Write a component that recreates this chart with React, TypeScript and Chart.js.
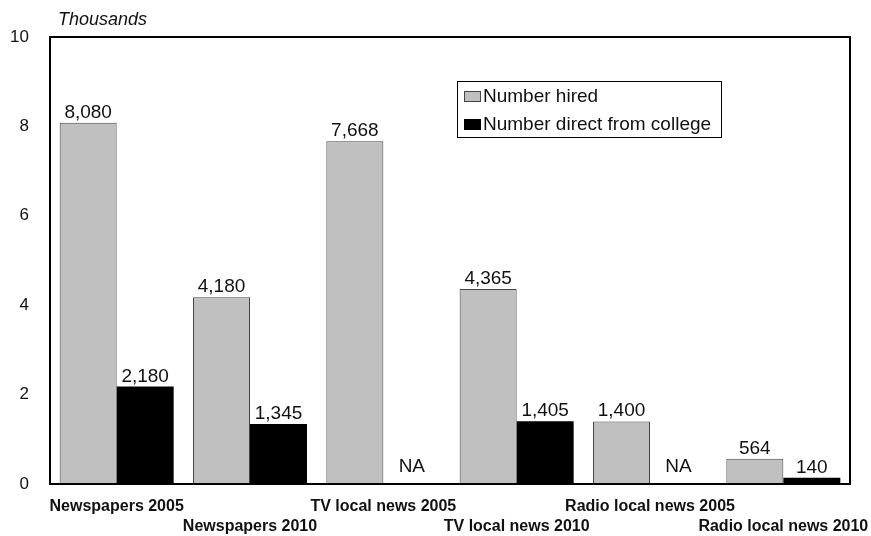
import React, { useEffect, useRef } from "react";
import { Chart, registerables } from "chart.js";

Chart.register(...registerables);

const categories = [
  "Newspapers 2005",
  "Newspapers 2010",
  "TV local news 2005",
  "TV local news 2010",
  "Radio local news 2005",
  "Radio local news 2010",
];
const seriesNames = ["Number hired", "Number direct from college"];
const hired = [8.08, 4.18, 7.668, 4.365, 1.4, 0.564];
const directFromCollege: (number | null)[] = [2.18, 1.345, null, 1.405, null, 0.14];
const yTicks = [0, 2, 4, 6, 8, 10];
const unitLabel = "Thousands";
const missingLabel = "NA";

const FONT = "'Liberation Sans', Arial, sans-serif";
const GRAY = "#c0c0c0";

function fmt(v: number) {
  return Math.round(v * 1000).toLocaleString("en-US");
}

const decorPlugin = {
  id: "decor",
  afterDatasetsDraw(chart: any) {
    const { ctx, chartArea } = chart;
    const { left, right, top, bottom } = chartArea;
    ctx.save();
    // value labels
    ctx.font = `19px ${FONT}`;
    ctx.fillStyle = "#111";
    ctx.textAlign = "center";
    ctx.textBaseline = "alphabetic";
    chart.data.datasets.forEach((ds: any, di: number) => {
      const meta = chart.getDatasetMeta(di);
      meta.data.forEach((bar: any, i: number) => {
        const v = ds.data[i];
        if (v === null || v === undefined) {
          ctx.fillText(missingLabel, bar.x, bottom - 12);
        } else {
          ctx.fillText(fmt(v), bar.x, bar.y - 5);
        }
      });
    });
    // plot box
    ctx.strokeStyle = "#000";
    ctx.lineWidth = 2;
    ctx.strokeRect(left, top, right - left, bottom - top);
    // unit label
    ctx.font = `italic 18px ${FONT}`;
    ctx.textAlign = "left";
    ctx.textBaseline = "middle";
    ctx.fillStyle = "#111";
    ctx.fillText(unitLabel, left + 8, 20);
    // legend
    const lx = left + 407;
    const ly = top + 44;
    const lw = 264;
    const lh = 56;
    ctx.fillStyle = "#fff";
    ctx.fillRect(lx, ly, lw, lh);
    ctx.strokeStyle = "#000";
    ctx.lineWidth = 1;
    ctx.strokeRect(lx + 0.5, ly + 0.5, lw, lh);
    ctx.font = `19px ${FONT}`;
    chart.data.datasets.forEach((ds: any, di: number) => {
      const cy = ly + 15 + di * 28;
      ctx.fillStyle = ds.backgroundColor;
      ctx.fillRect(lx + 7, cy - 5, 17, 11);
      ctx.strokeStyle = di === 0 ? "#444" : "#000";
      ctx.strokeRect(lx + 7.5, cy - 4.5, 16, 10);
      ctx.fillStyle = "#111";
      ctx.fillText(ds.label, lx + 26, cy + 1);
    });
    ctx.restore();
  },
};

export default function App() {
  const ref = useRef<HTMLCanvasElement>(null);
  useEffect(() => {
    if (!ref.current) return;
    const labels = categories.map((c, i) => (i % 2 === 1 ? ["", c] : [c]));
    const chart = new Chart(ref.current, {
      type: "bar",
      data: {
        labels,
        datasets: [
          {
            label: seriesNames[0],
            data: hired,
            backgroundColor: GRAY,
            borderColor: "#444",
            borderWidth: 1,
            categoryPercentage: 0.855,
            barPercentage: 1,
          },
          {
            label: seriesNames[1],
            data: directFromCollege,
            backgroundColor: "#000",
            borderColor: "#000",
            borderWidth: 0,
            categoryPercentage: 0.855,
            barPercentage: 1,
          },
        ],
      },
      options: {
        responsive: false,
        animation: false,
        devicePixelRatio: 1,
        layout: { padding: { top: 37, right: 21, left: 0, bottom: 0 } },
        plugins: { legend: { display: false }, tooltip: { enabled: false } },
        scales: {
          x: {
            grid: { display: false, drawTicks: false },
            border: { display: false },
            ticks: {
              autoSkip: false,
              maxRotation: 0,
              minRotation: 0,
              padding: 13,
              color: "#111",
              font: { family: FONT, size: 16, weight: "bold", lineHeight: 1.22 },
            },
            afterFit(scale: any) {
              scale.height = 52;
              scale.paddingLeft = 0;
              scale.paddingRight = 0;
            },
          },
          y: {
            min: 0,
            max: 10,
            grid: { display: false, drawTicks: false },
            border: { display: false },
            afterBuildTicks(scale: any) {
              scale.ticks = yTicks.map((v) => ({ value: v }));
            },
            ticks: {
              padding: 21,
              color: "#111",
              font: { family: FONT, size: 17 },
            },
            afterFit(scale: any) {
              scale.width = 50;
              scale.paddingTop = 0;
              scale.paddingBottom = 0;
            },
          },
        },
      },
      plugins: [decorPlugin],
    } as any);
    return () => chart.destroy();
  }, []);
  return (
    <div style={{ position: "absolute", left: 0, top: 0, width: 871, height: 536 }}>
      <canvas ref={ref} width={871} height={536} />
    </div>
  );
}
